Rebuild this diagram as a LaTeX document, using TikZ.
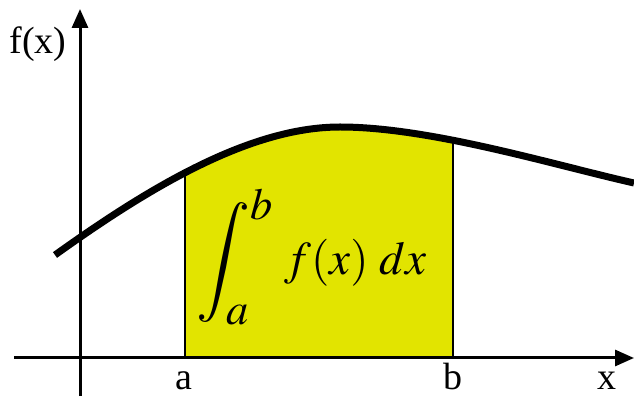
\documentclass[tikz,border=0pt]{standalone}
\usepackage{mathptmx}
\usepackage{fontspec}
\setmainfont{Liberation Serif}
\usepackage{tikz}
\usetikzlibrary{arrows.meta,positioning,calc}
\definecolor{areayellow}{RGB}{226,228,0}

\begin{document}
\begin{tikzpicture}[
x=1pt, y=1pt,
axis/.style={line width=3pt, -{Triangle[length=19pt,width=16pt]}},
curve/.style={line width=7pt},
bound/.style={line width=1.5pt},
lbl/.style={font=\fontsize{38}{44}\selectfont, anchor=base, inner sep=0pt},
integ/.style={font=\fontsize{60}{70}\selectfont, inner sep=0pt},
integrand/.style={font=\fontsize{47}{54}\selectfont, inner sep=0pt, anchor=base west}
]
\useasboundingbox (0,0) rectangle (634,396);

% axes end points
\coordinate (xstart) at (14,38);
\coordinate (xend) at (634,38);
\coordinate (ystart) at (80,0);
\coordinate (yend) at (80,387);
\coordinate (ax) at (185,38);
\coordinate (bx) at (453,38);
\coordinate (ay) at (185,226);
\coordinate (by) at (453,257);

\def\fcurve{(55,141) .. controls (150,209) and (250,269) .. (340,269) .. controls (430,269) and (554,231) .. (634,213)}

% area under the curve
\begin{scope}
\clip (185,0) rectangle (453,396);
\fill[areayellow] \fcurve -- (634,38) -- (55,38) -- cycle;
\end{scope}
\draw[bound] (ax) -- (ay);
\draw[bound] (bx) -- (by);

\draw[axis] (xstart) -- (xend);
\draw[axis] (ystart) -- (yend);
\draw[curve, line cap=butt] \fcurve;

\node[lbl] (flabel) at (38,342) {f(x)};
\node[lbl] (alabel) at (184,7) {a};
\node[lbl] (blabel) at (453,7) {b};
\node[lbl] (xlabel) at (607,7) {x};
\node[integ] (area) at (235,139) {$\displaystyle\int_a^b$};
\node[integrand] (fdx) at (284,121) {$f(x)\;dx$};
\end{tikzpicture}
\end{document}
